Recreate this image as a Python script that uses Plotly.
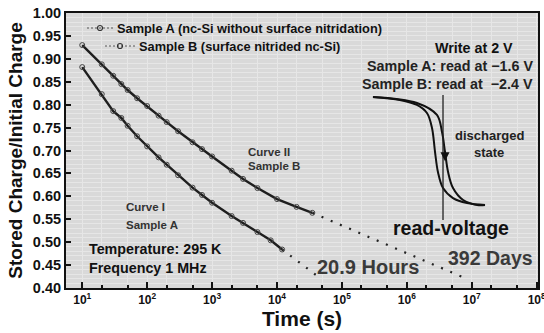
import plotly.graph_objects as go

# ---- data ----
time_b = [10, 20, 30, 40, 50, 70, 100, 150, 200, 300, 500, 700, 1000, 2000, 3000, 5000, 10000, 20000, 35000]
charge_b = [0.930, 0.888, 0.863, 0.845, 0.832, 0.814, 0.797, 0.776, 0.762, 0.742, 0.718, 0.703, 0.687, 0.656, 0.638, 0.618, 0.594, 0.577, 0.564]

time_a = [10, 20, 30, 40, 50, 70, 100, 150, 200, 300, 500, 700, 1000, 2000, 3000, 5000, 8000, 12000]
charge_a = [0.882, 0.823, 0.786, 0.771, 0.754, 0.731, 0.709, 0.685, 0.669, 0.646, 0.619, 0.603, 0.586, 0.557, 0.542, 0.522, 0.504, 0.484]

extrap_a_time = [12000, 42000]
extrap_a_charge = [0.484, 0.426]
extrap_b_time = [35000, 7.2e6]
extrap_b_charge = [0.564, 0.424]

x_tick_vals = [10, 100, 1000, 1e4, 1e5, 1e6, 1e7, 1e8]
x_tick_text = ["10<sup>1</sup>", "10<sup>2</sup>", "10<sup>3</sup>", "10<sup>4</sup>",
               "10<sup>5</sup>", "10<sup>6</sup>", "10<sup>7</sup>", "10<sup>8</sup>"]

legend_names = ["Sample A (nc-Si without surface nitridation)", "Sample B (surface nitrided nc-Si)"]

# inset C-V sketch (normalised units)
inset1_u = [0.0, 0.241, 0.393, 0.482, 0.527, 0.554, 0.580, 0.625, 0.714, 0.839, 1.0]
inset1_v = [0.984, 0.96, 0.92, 0.856, 0.736, 0.544, 0.384, 0.256, 0.176, 0.136, 0.12]
inset2_u = [0.0, 0.393, 0.571, 0.616, 0.643, 0.670, 0.714, 0.804, 0.929, 1.0]
inset2_v = [0.984, 0.936, 0.84, 0.704, 0.544, 0.384, 0.256, 0.16, 0.12, 0.12]
read_voltage_u = 0.625

FONT = "Liberation Sans, Arial, sans-serif"

# plot-area pixel helpers (plot area: x 66..538, y 13..288)
def px(xp):
    return (xp - 66) / 472
def py(yp):
    return 1 - (yp - 13) / 275

fig = go.Figure()

# data curves
for xs, ys in [(time_a, charge_a), (time_b, charge_b)]:
    fig.add_trace(go.Scatter(x=xs, y=ys, mode="lines+markers",
                             line=dict(color="#1e1e1e", width=2.4),
                             marker=dict(symbol="circle-open", size=5, color="#444444", line=dict(width=1)),
                             showlegend=False))
# extrapolations
for xs, ys in [(extrap_a_time, extrap_a_charge), (extrap_b_time, extrap_b_charge)]:
    fig.add_trace(go.Scatter(x=xs, y=ys, mode="lines",
                             line=dict(color="#222222", width=2.2, dash="2px,8px"),
                             showlegend=False))

# legend keys (drawn on an overlay axis in plot-fraction units)
legend_keys = [((87, 113), 100, 28, 115), ((105, 135), 120, 46, 137)]
for name, ((x0, x1), xc, yk, xt) in zip(legend_names, legend_keys):
    fig.add_trace(go.Scatter(x=[px(x0), px(x1)], y=[py(yk), py(yk)], mode="lines",
                             line=dict(color="#555555", width=1, dash="2px,2px"),
                             xaxis="x3", yaxis="y3", showlegend=False, hoverinfo="skip"))
    fig.add_trace(go.Scatter(x=[px(xc)], y=[py(yk)], mode="markers",
                             marker=dict(symbol="circle-open", size=5, color="#333333", line=dict(width=1.2)),
                             xaxis="x3", yaxis="y3", showlegend=False, hoverinfo="skip"))
    fig.add_annotation(text=name, x=px(xt), y=py(yk), xref="paper", yref="paper", showarrow=False,
                       xanchor="left", yanchor="middle",
                       font=dict(family=FONT, weight="bold", size=12.8, color="#111111"))

# inset
for us, vs in [(inset1_u, inset1_v), (inset2_u, inset2_v)]:
    fig.add_trace(go.Scatter(x=us, y=vs, mode="lines", line=dict(color="#111111", width=2, shape="spline"),
                             xaxis="x2", yaxis="y2", showlegend=False))
fig.add_trace(go.Scatter(x=[read_voltage_u, read_voltage_u], y=[0, 1], mode="lines",
                         line=dict(color="#222222", width=1.3),
                         xaxis="x2", yaxis="y2", showlegend=False))

# background panel
fig.add_shape(type="rect", xref="x domain", yref="y domain", x0=0, x1=1, y0=0, y1=1,
              fillcolor="#d9d9d9", line=dict(width=0), layer="below")

def ann(text, x, y, size, color="#111111", xanchor="center"):
    fig.add_annotation(text=text, x=x, y=y, xref="paper", yref="paper", showarrow=False,
                       xanchor=xanchor, yanchor="middle",
                       font=dict(family=FONT, weight="bold", size=size, color=color))

ann("Curve I", px(124), py(207), 11.5, "#333333", "left")
ann("Sample A", px(124), py(225), 11.5, "#333333", "left")
ann("Curve II", px(246), py(152), 11.5, "#333333", "left")
ann("Sample B", px(246), py(166), 11.5, "#333333", "left")
ann("Temperature: 295 K", px(87), py(249), 14.3, "#111111", "left")
ann("Frequency 1 MHz", px(87), py(268), 14.3, "#111111", "left")
ann("Write at 2 V", px(474), py(48), 14.3, "#111111")
ann("Sample A: read at \u22121.6 V", px(535), py(66), 14.3, "#222222", "right")
ann("Sample B: read at  \u22122.4 V", px(535), py(84), 14.3, "#222222", "right")
ann("discharged", px(489), py(135), 13, "#222222")
ann("state", px(489), py(152), 13, "#222222")
ann("read-voltage", px(451), py(228), 19.5, "#111111")
ann("20.9 Hours", px(368), py(267), 20, "#3a3a3a")
ann("392 Days", px(490), py(258), 19.5, "#3a3a3a")

fig.add_annotation(x=0.643, y=0.47, xref="x2", yref="y2", ax=0, ay=-10, text="",
                   showarrow=True, arrowhead=2, arrowsize=1.2, arrowwidth=1.5, arrowcolor="#111111")

fig.update_layout(
    width=544, height=333,
    margin=dict(l=66, r=6, t=13, b=45),
    paper_bgcolor="white",
    plot_bgcolor="rgba(0,0,0,0)",
    font=dict(family=FONT, color="#111111"),
    xaxis=dict(type="log", range=[0.75, 8.02], automargin=False,
               tickvals=x_tick_vals, ticktext=x_tick_text, ticklabeloverflow="allow",
               tickfont=dict(family=FONT, weight="bold", size=12),
               ticks="inside", ticklen=6, tickwidth=1.5, tickcolor="#111111",
               minor=dict(ticks="inside", ticklen=3, tickcolor="#111111", showgrid=True,
                          gridcolor="#e6e6e6", gridwidth=1),
               showgrid=True, gridcolor="#e6e6e6", gridwidth=1,
               showline=True, linecolor="#111111", linewidth=2, mirror=True,
               zeroline=False,
               title=dict(text="Time (s)", font=dict(family=FONT, weight="bold", size=21), standoff=1)),
    yaxis=dict(range=[0.40, 1.00], dtick=0.05, tickformat=".2f", automargin=False,
               tickfont=dict(family=FONT, weight="bold", size=14.5),
               ticks="inside", ticklen=5, tickwidth=1.5, tickcolor="#111111",
               minor=dict(dtick=0.01, showgrid=True, gridcolor="#e6e6e6", gridwidth=1),
               showgrid=True, gridcolor="#e6e6e6", gridwidth=1,
               showline=True, linecolor="#111111", linewidth=2, mirror=True,
               zeroline=False,
               title=dict(text="Stored Charge/Initial Charge", font=dict(family=FONT, weight="bold", size=19), standoff=5)),
    xaxis2=dict(domain=[0.650, 0.888], range=[0, 1], anchor="y2", visible=False),
    yaxis2=dict(domain=[0.247, 0.702], range=[0, 1], anchor="x2", visible=False),
    xaxis3=dict(domain=[0, 1], range=[0, 1], anchor="y3", visible=False),
    yaxis3=dict(domain=[0, 1], range=[0, 1], anchor="x3", visible=False),
    showlegend=False,
)

fig.write_html("out.html", config={"displayModeBar": False},
               post_script="document.body.style.margin='0';document.body.style.overflow='hidden';")
